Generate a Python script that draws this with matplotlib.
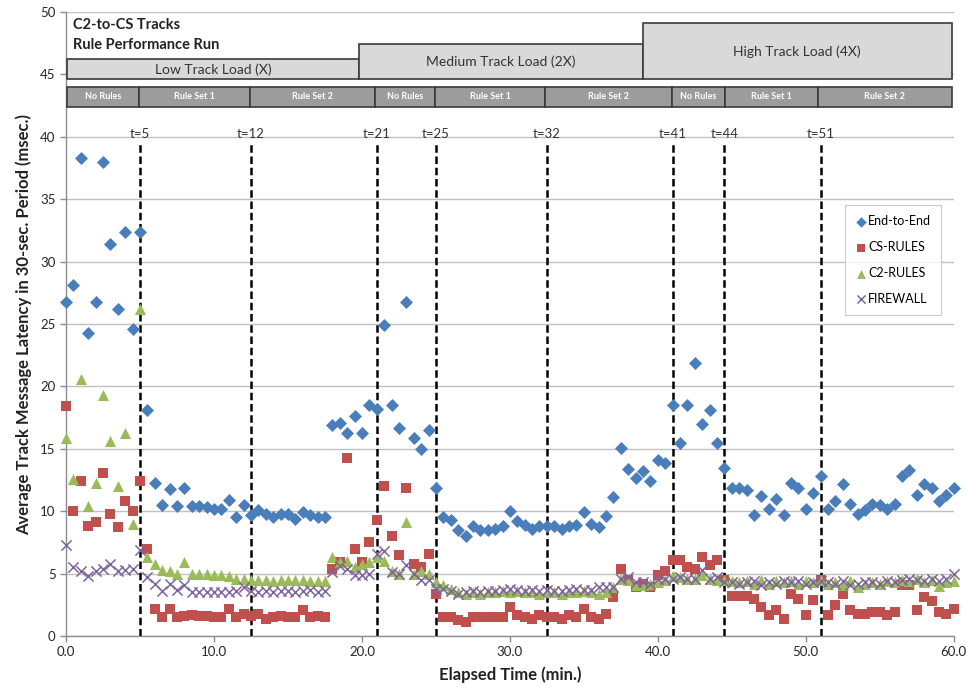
import numpy as np
import matplotlib
matplotlib.use("Agg")
import matplotlib.pyplot as plt
from matplotlib.patches import Rectangle

plt.rcParams['font.family'] = ['Lato', 'DejaVu Sans']

# 30-second sampling periods over the hour-long run
elapsed = np.arange(0, 60.5, 0.5)

end_to_end = [
    26.8, 28.1, 38.3, 24.3, 26.8, 38.0, 31.4, 26.2, 32.4, 24.6, 32.4,
    18.1, 12.3, 10.5, 11.8, 10.4, 11.9, 10.4, 10.4, 10.3, 10.2,
    10.2, 10.9, 9.5, 10.5, 9.7, 10.1, 9.8, 9.5, 9.8, 9.8,
    9.4, 9.9, 9.7, 9.5, 9.5, 16.9, 17.1, 16.3, 17.6, 16.3,
    18.5, 18.2, 24.9, 18.5, 16.7, 26.8, 15.9, 15.0, 16.5, 11.9,
    9.5, 9.3, 8.5, 8.0, 8.8, 8.5, 8.5, 8.6, 8.8, 10.0,
    9.2, 8.9, 8.6, 8.8, 8.8, 8.8, 8.6, 8.8, 8.9, 9.9,
    9.0, 8.7, 9.6, 11.1, 15.1, 13.4, 12.7, 13.2, 12.4, 14.1,
    13.9, 18.5, 15.5, 18.5, 21.9, 17.0, 18.1, 15.5, 13.5, 11.9,
    11.9, 11.7, 9.7, 11.2, 10.2, 11.0, 9.7, 12.3, 11.9, 10.2,
    11.5, 12.8, 10.2, 10.8, 12.2, 10.6, 9.8, 10.1, 10.6, 10.5,
    10.2, 10.6, 12.8, 13.3, 11.3, 12.2, 11.9, 10.8, 11.3, 11.9,
]

cs_rules = [
    18.4, 10.0, 12.4, 8.8, 9.1, 13.1, 9.8, 8.7, 10.8, 10.0, 12.4,
    7.0, 2.2, 1.5, 2.2, 1.5, 1.6, 1.7, 1.6, 1.6, 1.5,
    1.5, 2.2, 1.5, 1.8, 1.6, 1.8, 1.4, 1.5, 1.6, 1.5,
    1.5, 2.1, 1.5, 1.6, 1.5, 5.4, 5.9, 14.3, 7.0, 5.9,
    7.5, 9.3, 12.0, 8.0, 6.5, 11.9, 5.8, 5.5, 6.6, 3.4,
    1.5, 1.5, 1.3, 1.1, 1.5, 1.5, 1.5, 1.5, 1.5, 2.3,
    1.7, 1.5, 1.4, 1.7, 1.5, 1.5, 1.4, 1.7, 1.5, 2.2,
    1.5, 1.4, 1.8, 3.1, 5.4, 4.5, 3.9, 4.2, 3.9, 4.9,
    5.2, 6.1, 6.1, 5.5, 5.4, 6.3, 5.7, 6.1, 4.5, 3.2,
    3.2, 3.2, 3.0, 2.3, 1.7, 2.1, 1.4, 3.4, 3.0, 1.7,
    2.9, 4.5, 1.7, 2.5, 3.4, 2.1, 1.8, 1.8, 1.9, 1.9,
    1.7, 1.9, 4.1, 4.1, 2.1, 3.1, 2.8, 1.9, 1.8, 2.2,
]

c2_rules = [
    15.9, 12.6, 20.6, 10.4, 12.3, 19.3, 15.6, 12.0, 16.3, 9.0, 26.2,
    6.3, 5.8, 5.3, 5.2, 5.0, 5.9, 5.0, 5.0, 5.0, 4.9,
    4.9, 4.8, 4.6, 4.6, 4.5, 4.5, 4.5, 4.4, 4.5, 4.5,
    4.5, 4.5, 4.4, 4.4, 4.4, 6.3, 5.9, 6.0, 5.5, 5.8,
    5.9, 6.3, 6.0, 5.2, 5.0, 9.1, 5.0, 5.2, 5.0, 4.3,
    4.1, 3.8, 3.5, 3.4, 3.5, 3.4, 3.5, 3.5, 3.6, 3.5,
    3.6, 3.5, 3.5, 3.4, 3.5, 3.5, 3.4, 3.5, 3.5, 3.6,
    3.5, 3.4, 3.5, 3.9, 4.6, 4.5, 4.1, 4.1, 4.2, 4.3,
    4.5, 4.8, 4.7, 4.6, 4.6, 4.9, 4.6, 4.5, 4.5, 4.4,
    4.3, 4.4, 4.2, 4.5, 4.2, 4.4, 4.3, 4.4, 4.2, 4.4,
    4.3, 4.5, 4.2, 4.3, 4.1, 4.4, 3.9, 4.2, 4.3, 4.2,
    4.4, 4.3, 4.5, 4.4, 4.6, 4.3, 4.5, 4.0, 4.3, 4.4,
]

firewall = [
    7.3, 5.5, 5.2, 4.8, 5.2, 5.4, 5.8, 5.2, 5.3, 5.4, 6.9,
    4.7, 4.2, 3.6, 4.2, 3.7, 4.1, 3.5, 3.5, 3.5, 3.5,
    3.5, 3.5, 3.6, 3.9, 3.6, 3.5, 3.6, 3.5, 3.6, 3.6,
    3.5, 3.6, 3.7, 3.5, 3.6, 5.1, 5.6, 5.4, 4.9, 4.9,
    5.0, 6.6, 6.8, 5.1, 5.0, 5.7, 5.0, 4.5, 4.5, 3.8,
    3.8, 3.6, 3.4, 3.5, 3.6, 3.5, 3.6, 3.6, 3.7, 3.8,
    3.7, 3.6, 3.7, 3.6, 3.7, 3.6, 3.6, 3.7, 3.8, 3.7,
    3.7, 3.9, 3.9, 3.9, 4.6, 4.7, 4.3, 4.3, 4.2, 4.6,
    4.6, 4.6, 4.7, 4.6, 4.6, 5.3, 4.6, 4.7, 4.3, 4.3,
    4.2, 4.3, 4.4, 4.1, 4.3, 4.2, 4.4, 4.3, 4.4, 4.2,
    4.3, 4.4, 4.3, 4.2, 4.4, 4.1, 4.2, 4.3, 4.3, 4.2,
    4.4, 4.3, 4.5, 4.6, 4.5, 4.4, 4.6, 4.4, 4.6, 5.0,
]

# Configuration change events (minutes) and their labels
event_times = [5, 12.5, 21, 25, 32.5, 41, 44.5, 51]
event_labels = ['t=5', 't=12', 't=21', 't=25', 't=32', 't=41', 't=44', 't=51']

# Rule configuration bands
rule_names = ['No Rules', 'Rule Set 1', 'Rule Set 2'] * 3
rule_edges = [0.05, 4.95, 12.45, 20.85, 24.95, 32.4, 40.95, 44.55, 50.8, 59.85]

# Track load bands
load_names = ['Low Track Load (X)', 'Medium Track Load (2X)', 'High Track Load (4X)']
load_edges = [0.05, 19.8, 39.0, 59.85]
load_tops = [46.2, 47.4, 49.1]

series_names = ['End-to-End', 'CS-RULES', 'C2-RULES', 'FIREWALL']

fig = plt.figure(figsize=(9.67, 6.87), dpi=100)
ax = fig.add_axes([0.0683, 0.0742, 0.9180, 0.9083])

ax.set_xlim(0, 60)
ax.set_ylim(0, 50)
ax.set_yticks(np.arange(0, 51, 5))
ax.set_xticks(np.arange(0, 61, 10))
ax.set_xticklabels([f'{v:.1f}' for v in np.arange(0, 61, 10)])
ax.yaxis.grid(True, color='#c0c0c0', linewidth=1.0, zorder=0)
ax.set_axisbelow(True)
for s in ['top', 'right']:
    ax.spines[s].set_visible(False)
for s in ['left', 'bottom']:
    ax.spines[s].set_color('#8c8c8c')
    ax.spines[s].set_linewidth(1.0)
ax.tick_params(axis='both', colors='#8c8c8c', labelcolor='#262626',
               labelsize=9.5, length=4, width=1, direction='out')

# Event markers
for t, lab in zip(event_times, event_labels):
    ax.plot([t, t], [0, 39.6], color='black', linestyle=(0, (3, 1.5)),
            linewidth=1.8, zorder=2)
    ax.text(t, 40.2, lab, ha='center', va='center', fontsize=9.5,
            color='#333333', zorder=3)

kw = dict(clip_on=False, zorder=4)
ax.scatter(elapsed, end_to_end, marker='D', s=44, color='#4a7ebb',
           linewidths=0, label=series_names[0], **kw)
ax.scatter(elapsed, cs_rules, marker='s', s=60, color='#c0504d',
           linewidths=0, label=series_names[1], **kw)
ax.scatter(elapsed, c2_rules, marker='^', s=64, color='#9bbb59',
           linewidths=0, label=series_names[2], **kw)
ax.scatter(elapsed, firewall, marker='x', s=54, color='#8064a2',
           linewidths=1.1, label=series_names[3], **kw)

# Load bands
for name, x0, x1, top in zip(load_names, load_edges[:-1], load_edges[1:], load_tops):
    ax.add_patch(Rectangle((x0, 44.6), x1 - x0, top - 44.6, facecolor='#d9d9d9',
                           edgecolor='#3a3a3a', linewidth=1.2, zorder=5))
    ax.text((x0 + x1) / 2, (44.6 + top) / 2, name, ha='center', va='center',
            fontsize=10, color='#333333', zorder=6)

# Rule configuration bands
for name, x0, x1 in zip(rule_names, rule_edges[:-1], rule_edges[1:]):
    ax.add_patch(Rectangle((x0, 42.4), x1 - x0, 1.6, facecolor='#9c9c9c',
                           edgecolor='#3a3a3a', linewidth=1.2, zorder=5))
    ax.text((x0 + x1) / 2, 43.2, name, ha='center', va='center',
            fontsize=6.5, fontweight='bold', color='white', zorder=6)

ax.text(0.5, 49.0, 'C2-to-CS Tracks', ha='left', va='center', fontsize=10.5,
        fontweight='bold', color='#222222', zorder=6)
ax.text(0.5, 47.35, 'Rule Performance Run', ha='left', va='center', fontsize=10.5,
        fontweight='bold', color='#222222', zorder=6)

ax.set_xlabel('Elapsed Time (min.)', fontsize=12, fontweight='bold',
              color='#222222', labelpad=6)
ax.set_ylabel('Average Track Message Latency in 30-sec. Period (msec.)',
              fontsize=12, fontweight='bold', color='#222222', labelpad=6)

leg = ax.legend(loc='upper right', bbox_to_anchor=(0.993, 0.70), fontsize=9,
                frameon=True, fancybox=False, edgecolor='#bfbfbf',
                handletextpad=0.1, handlelength=1.0, borderpad=0.8,
                labelspacing=1.1, markerscale=0.8)
leg.get_frame().set_linewidth(0.8)
leg.set_zorder(7)

fig.savefig('out.png', dpi=100)
